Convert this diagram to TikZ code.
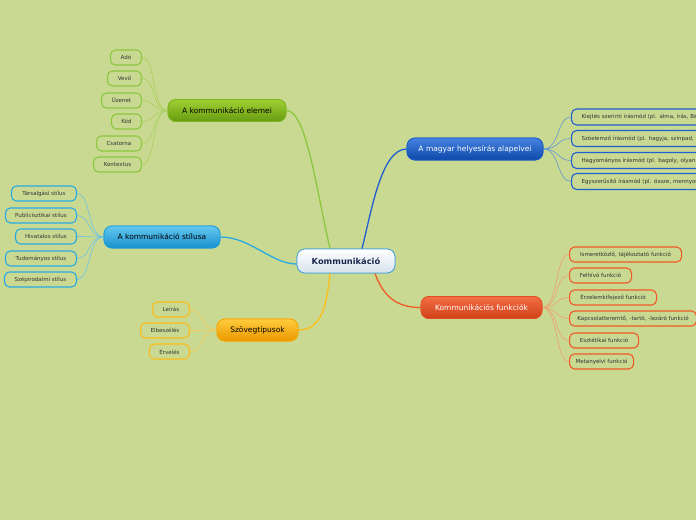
\documentclass[tikz,border=0pt]{standalone}
\usepackage{fontspec}
\setmainfont{DejaVu Sans}
\definecolor{bg}{RGB}{201,217,146}
\definecolor{grnB}{RGB}{122,181,29}
\definecolor{grnT}{RGB}{160,208,50}
\definecolor{grnD}{RGB}{104,156,18}
\definecolor{grnL}{RGB}{141,198,63}
\definecolor{grnC}{RGB}{168,208,90}
\definecolor{cyB}{RGB}{26,160,220}
\definecolor{cyT}{RGB}{100,200,240}
\definecolor{cyD}{RGB}{24,144,205}
\definecolor{cyL}{RGB}{41,171,226}
\definecolor{cyC}{RGB}{110,195,230}
\definecolor{ylB}{RGB}{245,167,0}
\definecolor{ylT}{RGB}{255,204,60}
\definecolor{ylD}{RGB}{235,152,0}
\definecolor{ylL}{RGB}{251,190,26}
\definecolor{ylC}{RGB}{250,200,90}
\definecolor{dbB}{RGB}{29,95,196}
\definecolor{dbT}{RGB}{70,130,225}
\definecolor{dbD}{RGB}{12,72,168}
\definecolor{dbL}{RGB}{31,95,207}
\definecolor{dbC}{RGB}{100,150,210}
\definecolor{rdB}{RGB}{228,79,34}
\definecolor{rdT}{RGB}{243,110,70}
\definecolor{rdD}{RGB}{208,64,24}
\definecolor{rdL}{RGB}{240,90,40}
\definecolor{rdC}{RGB}{240,160,110}
\definecolor{ctB}{RGB}{74,163,216}
\definecolor{ctT}{RGB}{255,255,255}
\definecolor{ctD}{RGB}{214,226,236}
\definecolor{ctX}{RGB}{26,40,80}
\tikzset{
  mainnode/.style={rounded corners=8pt, draw, line width=0.8pt, inner sep=0pt,
    minimum height=22pt, font=\fontsize{7.5}{9}\selectfont},
  leaf/.style={rounded corners=5pt, draw, line width=1.1pt, fill=bg, inner sep=0pt,
    minimum height=15pt, text=black!80, font=\fontsize{5.5}{6.5}\selectfont},
  mainline/.style={line width=1.3pt},
  leafline/.style={line width=0.6pt},
}
\begin{document}
\begin{tikzpicture}[x=1pt,y=-1pt]
\useasboundingbox (0,0) rectangle (696,520);
\fill[bg] (0,0) rectangle (696,520);
\clip (0,0) rectangle (696,520);

% main nodes (named), connectors, then nodes redrawn on top
\node[mainnode, draw=ctB, top color=ctT, bottom color=ctD, text=ctX, minimum width=98pt, minimum height=24pt,
  font=\fontsize{8.3}{10}\selectfont\bfseries] (c) at (346,261) {Kommunikáció};
\node[mainnode, draw=grnB, top color=grnT, bottom color=grnD, text=black, minimum width=118pt] (g) at (227,110.5) {A kommunikáció elemei};
\node[mainnode, draw=cyB, top color=cyT, bottom color=cyD, text=black, minimum width=116pt] (s) at (162,237) {A kommunikáció stílusa};
\node[mainnode, draw=ylB, top color=ylT, bottom color=ylD, text=black, minimum width=81pt] (y) at (257.5,330) {Szövegtípusok};
\node[mainnode, draw=dbB, top color=dbT, bottom color=dbD, text=white, minimum width=136pt] (h) at (475,149) {A magyar helyesírás alapelvei};
\node[mainnode, draw=rdB, top color=rdT, bottom color=rdD, text=white, minimum width=121pt] (f) at (481.5,307.5) {Kommunikációs funkciók};

\draw[mainline, grnL] ([xshift=-16pt]c.north) .. controls +(-14,-60) and +(20,0) .. (g.east);
\draw[mainline, dbL] ([xshift=16pt]c.north) .. controls +(10,-40) and +(-25,0) .. (h.west);
\draw[mainline, cyL] ([yshift=-3pt]c.west) .. controls +(-25,0) and +(30,0) .. (s.east);
\draw[mainline, ylL] ([xshift=-16pt]c.south) .. controls +(-4,40) and +(20,0) .. (y.east);
\draw[mainline, rdL] ([xshift=29pt]c.south) .. controls +(8,22) and +(-25,0) .. (f.west);

% green leaves
\node[leaf, draw=grnL, anchor=east, minimum width=31pt] (g1) at (142,57.5) {Adó};
\node[leaf, draw=grnL, anchor=east, minimum width=34pt] (g2) at (142,78.5) {Vevő};
\node[leaf, draw=grnL, anchor=east, minimum width=40pt] (g3) at (142,100.5) {Üzenet};
\node[leaf, draw=grnL, anchor=east, minimum width=30pt] (g4) at (142,121.5) {Kód};
\node[leaf, draw=grnL, anchor=east, minimum width=45pt] (g5) at (142,143.5) {Csatorna};
\node[leaf, draw=grnL, anchor=east, minimum width=48pt] (g6) at (142,164.5) {Kontextus};
\foreach \n in {g1,g2,g3,g4,g5,g6}
  \draw[leafline, grnC] (g.west) .. controls +(-16,0) and +(14,0) .. (\n.east);

% cyan leaves
\node[leaf, draw=cyL, anchor=east, minimum width=65pt] (s1) at (77,193.5) {Társalgási stílus};
\node[leaf, draw=cyL, anchor=east, minimum width=71pt] (s2) at (77,215.5) {Publicisztikai stílus};
\node[leaf, draw=cyL, anchor=east, minimum width=61pt] (s3) at (77,236.5) {Hivatalos stílus};
\node[leaf, draw=cyL, anchor=east, minimum width=71pt] (s4) at (77,258.5) {Tudományos stílus};
\node[leaf, draw=cyL, anchor=east, minimum width=72pt] (s5) at (77,279.5) {Szépirodalmi stílus};
\foreach \n in {s1,s2,s3,s4,s5}
  \draw[leafline, cyC] (s.west) .. controls +(-16,0) and +(14,0) .. (\n.east);

% yellow leaves
\node[leaf, draw=ylL, anchor=east, minimum width=37pt] (y1) at (190,309.5) {Leírás};
\node[leaf, draw=ylL, anchor=east, minimum width=49pt] (y2) at (190,330.5) {Elbeszélés};
\node[leaf, draw=ylL, anchor=east, minimum width=40pt] (y3) at (190,351.5) {Érvelés};
\foreach \n in {y1,y2,y3}
  \draw[leafline, ylC] (y.west) .. controls +(-16,0) and +(14,0) .. (\n.east);

% dark blue leaves (cut off at the right edge, as in the reference)
\tikzset{bleaf/.style={leaf, draw=dbL, anchor=west, text width=140pt, align=left, inner xsep=10pt, minimum height=16pt}}
\node[bleaf] (h1) at (571,117) {Kiejtés szerinti írásmód (pl. alma, írás, Bél};
\node[bleaf] (h2) at (571,138.5) {Szóelemző írásmód (pl. hagyja, színpad, ta};
\node[bleaf] (h3) at (571,160.5) {Hagyományos írásmód (pl. bagoly, olyan,};
\node[bleaf] (h4) at (571,181.5) {Egyszerűsítő írásmód (pl. össze, mennyor};
\foreach \n in {h1,h2,h3,h4}
  \draw[leafline, dbC] (h.east) .. controls +(16,0) and +(-14,0) .. (\n.west);

% red leaves
\node[leaf, draw=rdL, anchor=west, minimum width=112pt] (f1) at (569,254.5) {Ismeretközlő, tájékoztató funkció};
\node[leaf, draw=rdL, anchor=west, minimum width=62pt] (f2) at (569,275.5) {Felhívó funkció};
\node[leaf, draw=rdL, anchor=west, minimum width=87pt] (f3) at (569,297.5) {Érzelemkifejező funkció};
\node[leaf, draw=rdL, anchor=west, minimum width=127pt] (f4) at (569,318.5) {Kapcsolatteremtő, -tartó, -lezáró funkció};
\node[leaf, draw=rdL, anchor=west, minimum width=69pt] (f5) at (569,340.5) {Esztétikai funkció};
\node[leaf, draw=rdL, anchor=west, minimum width=64pt] (f6) at (569,361.5) {Metanyelvi funkció};
\foreach \n in {f1,f2,f3,f4,f5,f6}
  \draw[leafline, rdC] (f.east) .. controls +(16,0) and +(-14,0) .. (\n.west);

% main nodes again, over the connector ends
\node[mainnode, draw=ctB, top color=ctT, bottom color=ctD, text=ctX, minimum width=98pt, minimum height=24pt,
  font=\fontsize{8.3}{10}\selectfont\bfseries] at (346,261) {Kommunikáció};
\node[mainnode, draw=grnB, top color=grnT, bottom color=grnD, text=black, minimum width=118pt] at (227,110.5) {A kommunikáció elemei};
\node[mainnode, draw=cyB, top color=cyT, bottom color=cyD, text=black, minimum width=116pt] at (162,237) {A kommunikáció stílusa};
\node[mainnode, draw=ylB, top color=ylT, bottom color=ylD, text=black, minimum width=81pt] at (257.5,330) {Szövegtípusok};
\node[mainnode, draw=dbB, top color=dbT, bottom color=dbD, text=white, minimum width=136pt] at (475,149) {A magyar helyesírás alapelvei};
\node[mainnode, draw=rdB, top color=rdT, bottom color=rdD, text=white, minimum width=121pt] at (481.5,307.5) {Kommunikációs funkciók};
\end{tikzpicture}
\end{document}
